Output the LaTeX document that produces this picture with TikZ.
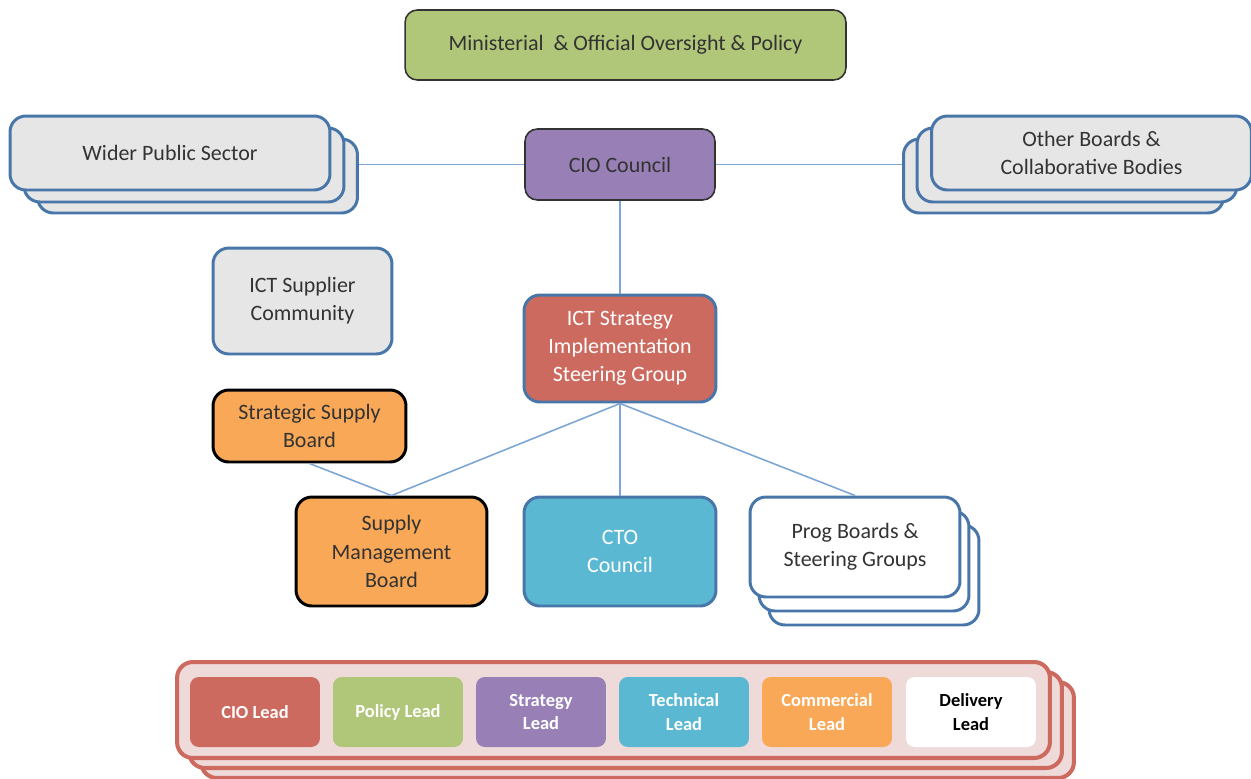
\documentclass[tikz,border=0pt]{standalone}
\usepackage{fontspec}
\setmainfont{Carlito}
\usepackage{tikz}
\usetikzlibrary{positioning}

\definecolor{txtgray}{RGB}{51,51,51}
\definecolor{linkblue}{RGB}{125,166,212}
\definecolor{edgeblue}{RGB}{72,118,168}
\definecolor{boxgray}{RGB}{230,230,230}
\definecolor{mgreen}{RGB}{176,198,120}
\definecolor{mpurple}{RGB}{152,128,183}
\definecolor{mred}{RGB}{205,106,95}
\definecolor{mcyan}{RGB}{91,184,210}
\definecolor{morange}{RGB}{249,168,87}
\definecolor{mpink}{RGB}{239,218,218}

\begin{document}
\begin{tikzpicture}[
  x=0.02cm, y=-0.02cm,
  unit/.style={draw, rounded corners=7pt, align=center, inner sep=2pt,
    font=\fontsize{12.5}{16}\selectfont, text=txtgray},
  bluebox/.style={unit, draw=edgeblue, line width=1.7pt, rounded corners=9pt},
  blackbox/.style={unit, draw=black, line width=1.7pt, fill=morange, rounded corners=9pt},
  stack/.style={bluebox, fill=boxgray, minimum width=6.4cm, minimum height=1.48cm},
  progstack/.style={bluebox, fill=white, minimum width=4.2cm, minimum height=2cm},
  leadstack/.style={draw=mred, line width=2.3pt, fill=mpink, rounded corners=9pt,
    minimum width=17.46cm, minimum height=1.92cm},
  lead/.style={rounded corners=5pt, minimum width=2.6cm, minimum height=1.4cm,
    align=center, text=white, font=\fontsize{10.5}{13.5}\selectfont\bfseries},
  link/.style={draw=linkblue, line width=0.9pt}
]
\useasboundingbox (0,0) rectangle (1251,778);

% top of the structure
\node[unit, draw=txtgray, line width=0.9pt, fill=mgreen, minimum width=8.82cm, minimum height=1.4cm] (mins) at (625.5,45) {Ministerial~~\& Official Oversight \& Policy};
\node[unit, draw=txtgray, line width=0.9pt, fill=mpurple, minimum width=3.8cm, minimum height=1.42cm] (cio) at (620,164.5) {CIO Council};

% stacked side boxes
\node[stack] (wps3) at (197.5,176) {};
\node[stack] (wps2) at (184,165) {};
\node[stack] (wps) at (170,153) {Wider Public Sector};
\node[stack] (obb3) at (1063.5,176) {};
\node[stack] (obb2) at (1077,165) {};
\node[stack] (obb) at (1091.5,153) {Other Boards \&\\Collaborative Bodies};

% middle tier
\node[bluebox, fill=boxgray, minimum width=3.58cm, minimum height=2.12cm] (ictsc) at (302.5,301) {ICT Supplier\\Community};
\node[bluebox, fill=mred, text=white, minimum width=3.84cm, minimum height=2.14cm] (ictsig) at (620,348.5) {ICT Strategy\\Implementation\\Steering Group};
\node[blackbox, minimum width=3.86cm, minimum height=1.44cm] (ssb) at (309.5,426) {Strategic Supply\\Board};
\node[blackbox, minimum width=3.82cm, minimum height=2.18cm] (smb) at (391.5,551.5) {Supply\\Management\\Board};
\node[bluebox, fill=mcyan, text=white, minimum width=3.84cm, minimum height=2.18cm] (cto) at (620,551.5) {CTO\\Council};
\node[progstack] (prog3) at (874,575) {};
\node[progstack] (prog2) at (864,561) {};
\node[progstack] (prog) at (855,547) {Prog Boards \&\\Steering Groups};

% lead roles
\node[leadstack] (leads3) at (637.5,730) {};
\node[leadstack] (leads2) at (625.5,720) {};
\node[leadstack] (leads) at (613.5,710) {};
\foreach \nm/\col/\lbl [count=\i] in {ciol/mred/CIO Lead, poll/mgreen/Policy Lead, strl/mpurple/Strategy\\Lead, tecl/mcyan/Technical\\Lead, coml/morange/Commercial\\Lead}
  \node[lead, fill=\col] (\nm) at (112+143*\i,712) {\lbl};
\node[lead, fill=white, text=black] (dell) at (971,712) {Delivery\\Lead};

% connectors
\draw[link] (cio.west) -- (cio.west -| wps3.east);
\draw[link] (cio.east) -- (cio.east -| obb3.west);
\draw[link] (cio.south) -- (ictsig.north);
\foreach \t in {smb, cto, prog}
  \draw[link] (ictsig.south) -- (\t.north);
\draw[link] (ssb.south) -- (smb.north);
\end{tikzpicture}
\end{document}
